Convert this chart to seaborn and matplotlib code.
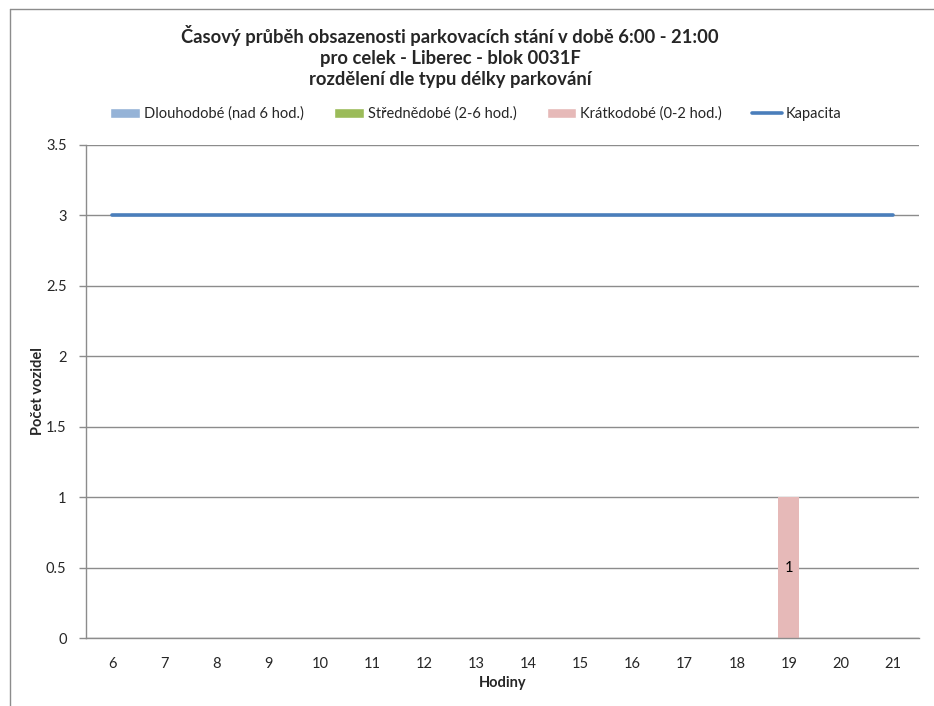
import matplotlib
matplotlib.use("Agg")
import matplotlib.pyplot as plt
from matplotlib.lines import Line2D
from matplotlib.patches import Patch
import seaborn as sns
import numpy as np
import pandas as pd

hours = ["6", "7", "8", "9", "10", "11", "12", "13", "14", "15", "16", "17", "18", "19", "20", "21"]
dlouhodobe = [0, 0, 0, 0, 0, 0, 0, 0, 0, 0, 0, 0, 0, 0, 0, 0]
strednedobe = [0, 0, 0, 0, 0, 0, 0, 0, 0, 0, 0, 0, 0, 0, 0, 0]
kratkodobe = [0, 0, 0, 0, 0, 0, 0, 0, 0, 0, 0, 0, 0, 1, 0, 0]
kapacita = [3, 3, 3, 3, 3, 3, 3, 3, 3, 3, 3, 3, 3, 3, 3, 3]

title = ("Časový průběh obsazenosti parkovacích stání v době 6:00 - 21:00\n"
         "pro celek - Liberec - blok 0031F\n"
         "rozdělení dle typu délky parkování")

sns.set_theme(style="white")
plt.rcParams['font.family'] = ['Lato', 'Open Sans', 'DejaVu Sans']

c_long = "#95B3D7"
c_mid = "#9BBB59"
c_short = "#E6B9B8"
c_line = "#4A7EBB"
gray = "#8C8C8C"

fig = plt.figure(figsize=(9.34, 7.06), dpi=100)
ax = fig.add_axes([86/934, 1 - 638/706, (919 - 86)/934, (638 - 145)/706])

df = pd.DataFrame({"h": hours, "long": dlouhodobe, "mid": strednedobe,
                   "short": kratkodobe, "cap": kapacita})
b1 = np.array(dlouhodobe)
b2 = b1 + np.array(strednedobe)

sns.barplot(data=df, x="h", y="long", order=hours, color=c_long, width=0.4,
            saturation=1, ax=ax, bottom=0, linewidth=0, zorder=3)
sns.barplot(data=df, x="h", y="mid", order=hours, color=c_mid, width=0.4,
            saturation=1, ax=ax, bottom=b1, linewidth=0, zorder=3)
sns.barplot(data=df, x="h", y="short", order=hours, color=c_short, width=0.4,
            saturation=1, ax=ax, bottom=b2, linewidth=0, zorder=3)

short_cont = ax.containers[-1]
labels = [str(v) if v > 0 else "" for v in kratkodobe]
ax.bar_label(short_cont, labels=labels, label_type="center", fontsize=10.5, color="black")

sns.pointplot(data=df, x="h", y="cap", order=hours, color=c_line, markers="",
              linewidth=2.6, ax=ax, zorder=4)

ax.set_xlim(-0.5, len(hours) - 0.5)
ax.set_ylim(0, 3.5)
ax.set_yticks(np.arange(0, 3.51, 0.5))
ax.set_yticklabels(["0", "0.5", "1", "1.5", "2", "2.5", "3", "3.5"])
ax.yaxis.grid(True, color=gray, linewidth=1.0, zorder=0)
ax.set_axisbelow(True)

for s in ["top", "right"]:
    ax.spines[s].set_visible(False)
for s in ["left", "bottom"]:
    ax.spines[s].set_color(gray)
    ax.spines[s].set_linewidth(1.0)
    ax.spines[s].set_zorder(5)

ax.tick_params(axis="x", which="major", length=0, labelsize=10.5, pad=14)
ax.set_xticks(np.arange(-0.5, len(hours), 1.0), minor=True)
ax.tick_params(axis="x", which="minor", length=5, color=gray, width=1, direction="out")
ax.tick_params(axis="y", which="major", length=5, color=gray, width=1,
               direction="out", labelsize=10.5, pad=9, left=True)

ax.set_xlabel("Hodiny", fontsize=10.5, fontweight="bold", va="center")
ax.xaxis.set_label_coords(0.5, (638 - 683) / 493)
ax.set_ylabel("Počet vozidel", fontsize=10.5, fontweight="bold", va="center")
ax.yaxis.set_label_coords((38 - 86) / 833, 0.5)

fig.text(450/934, 1 - 25/706, title, ha="center", va="top", fontsize=13.2,
         fontweight="bold", linespacing=1.3)

handles = [Patch(facecolor=c_long), Patch(facecolor=c_mid), Patch(facecolor=c_short),
           Line2D([0], [0], color=c_line, linewidth=2.6)]
leg_labels = ["Dlouhodobé (nad 6 hod.)", "Střednědobé (2-6 hod.)",
              "Krátkodobé (0-2 hod.)", "Kapacita"]
fig.legend(handles, leg_labels, loc="center", bbox_to_anchor=(476/934, 1 - 114/706),
           ncol=4, frameon=False, fontsize=10.5, handlelength=2.05, handleheight=0.6,
           handletextpad=0.27, columnspacing=2.05, borderpad=0)

fig.add_artist(Line2D([9.5/934, 9.5/934], [0, 1 - 8.5/706], transform=fig.transFigure,
                      color=gray, linewidth=1.0))
fig.add_artist(Line2D([9.5/934, 1], [1 - 8.5/706, 1 - 8.5/706], transform=fig.transFigure,
                      color=gray, linewidth=1.0))

fig.savefig("out.png", dpi=100, facecolor="white")
